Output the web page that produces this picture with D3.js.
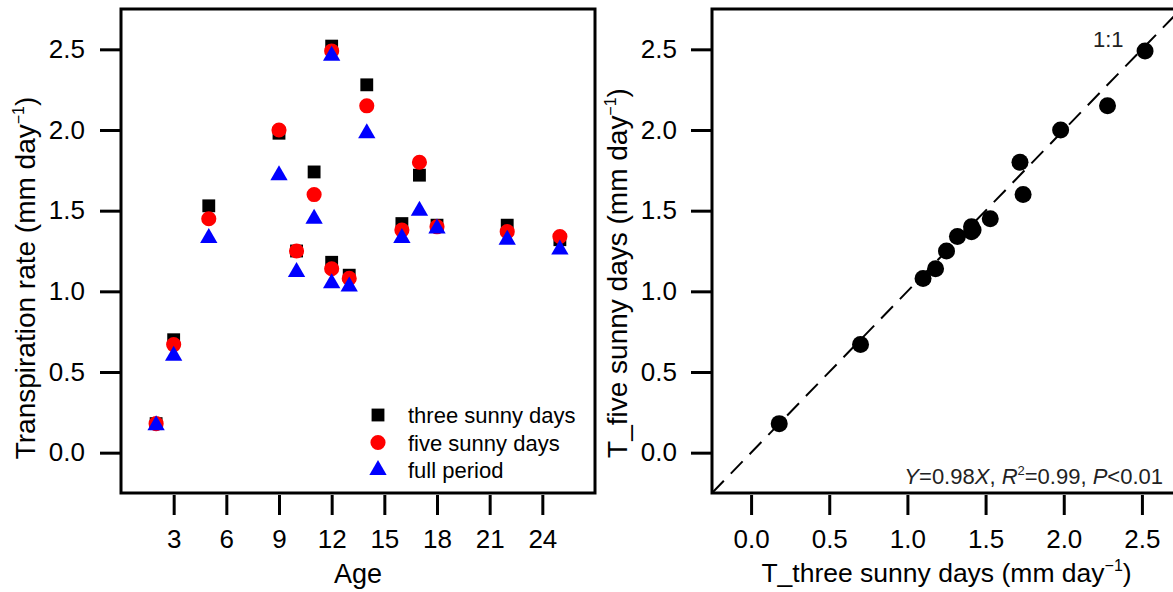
<!DOCTYPE html>
<html>
<head>
<meta charset="utf-8">
<script src="https://cdn.jsdelivr.net/npm/d3@7"></script>
<style>
  body { margin: 0; background: #fff; }
  svg { display: block; font-family: "Liberation Sans", Arial, sans-serif; }
</style>
</head>
<body>
<script>
// ages of the stands
var ages = [2, 3, 5, 9, 10, 11, 12, 12, 13, 14, 16, 17, 18, 22, 25];
// transpiration (mm/day) for each method
var threeSunny = [0.18, 0.70, 1.53, 1.98, 1.25, 1.74, 2.52, 1.18, 1.10, 2.28, 1.42, 1.72, 1.41, 1.41, 1.32];
var fiveSunny  = [0.18, 0.67, 1.45, 2.00, 1.25, 1.60, 2.49, 1.14, 1.08, 2.15, 1.38, 1.80, 1.40, 1.37, 1.34];
var fullPeriod = [0.17, 0.60, 1.33, 1.72, 1.12, 1.45, 2.46, 1.05, 1.03, 1.98, 1.33, 1.50, 1.39, 1.32, 1.26];

var ageTicks = [3, 6, 9, 12, 15, 18, 21, 24];
var rateTicks = [0, 0.5, 1, 1.5, 2, 2.5];
var seriesNames = ["three sunny days", "five sunny days", "full period"];

var width = 1173;
var height = 592;

var svg = d3.select("body").append("svg")
  .attr("width", width)
  .attr("height", height);

// shared y scale (both panels)
var plotTop = 9, plotBottom = 493;
var yScale = d3.scaleLinear().domain([-0.25, 2.75]).range([plotBottom, plotTop]);

var tickFont = "26px";

function styleAxis(g) {
  g.select(".domain").remove();
  g.selectAll(".tick line").attr("stroke", "#000").attr("stroke-width", 3);
  g.selectAll(".tick text").attr("fill", "#000").style("font-size", tickFont)
    .style("font-family", "'Liberation Sans', Arial, sans-serif");
}

function addUnitLabel(t, main) {
  t.append("tspan").text(main + " (mm day");
  t.append("tspan").attr("dy", -11).style("font-size", "16px").text("\u22121");
  t.append("tspan").attr("dy", 11).text(")");
}

// ---------- left panel ----------
var left = { x0: 121, x1: 595 };
var xAge = d3.scaleLinear().domain([0, 27]).range([left.x0, left.x1]);

svg.append("g")
  .attr("transform", "translate(" + left.x0 + ",0)")
  .call(d3.axisLeft(yScale).tickValues(rateTicks).tickFormat(d3.format(".1f")).tickSize(21).tickPadding(15))
  .call(styleAxis);

svg.append("g")
  .attr("transform", "translate(0," + (plotBottom + 2) + ")")
  .call(d3.axisBottom(xAge).tickValues(ageTicks).tickSize(20).tickPadding(15))
  .call(styleAxis);

var sym = {
  square: d3.symbol().type(d3.symbolSquare).size(165),
  circle: d3.symbol().type(d3.symbolCircle).size(180),
  triangle: d3.symbol().type(d3.symbolTriangle).size(130)
};

var leftSeries = [
  { values: threeSunny, shape: sym.square, color: "#000000" },
  { values: fiveSunny, shape: sym.circle, color: "#ff0000" },
  { values: fullPeriod, shape: sym.triangle, color: "#0000ff" }
];

leftSeries.forEach(function(s) {
  svg.append("g").selectAll("path")
    .data(ages)
    .enter()
      .append("path")
      .attr("d", s.shape())
      .attr("fill", s.color)
      .attr("transform", (d, i) => "translate(" + xAge(d) + "," + yScale(s.values[i]) + ")");
});

svg.append("rect")
  .attr("x", left.x0).attr("y", plotTop)
  .attr("width", left.x1 - left.x0).attr("height", plotBottom - plotTop)
  .attr("fill", "none").attr("stroke", "#000").attr("stroke-width", 3);

// legend
var legend = svg.append("g").attr("transform", "translate(378,415)");
leftSeries.forEach(function(s, i) {
  legend.append("path")
    .attr("d", s.shape())
    .attr("fill", s.color)
    .attr("transform", "translate(0," + i * 27.5 + ")");
  legend.append("text")
    .attr("x", 30)
    .attr("y", i * 27.5 + 8)
    .style("font-size", "22px")
    .text(seriesNames[i]);
});

// axis titles
svg.append("text")
  .attr("x", (left.x0 + left.x1) / 2)
  .attr("y", 583)
  .attr("text-anchor", "middle")
  .style("font-size", "27px")
  .text("Age");

svg.append("text")
  .attr("transform", "translate(35,278) rotate(-90)")
  .attr("text-anchor", "middle")
  .style("font-size", "28px")
  .call(addUnitLabel, "Transpiration rate");

// ---------- right panel ----------
var right = { x0: 712, x1: 1181 };
var xThree = d3.scaleLinear().domain([-0.25, 2.75]).range([right.x0, right.x1]);

svg.append("g")
  .attr("transform", "translate(" + right.x0 + ",0)")
  .call(d3.axisLeft(yScale).tickValues(rateTicks).tickFormat(d3.format(".1f")).tickSize(21).tickPadding(14))
  .call(styleAxis);

svg.append("g")
  .attr("transform", "translate(0," + (plotBottom + 2) + ")")
  .call(d3.axisBottom(xThree).tickValues(rateTicks).tickFormat(d3.format(".1f")).tickSize(20).tickPadding(15))
  .call(styleAxis);

// 1:1 line
svg.append("line")
  .attr("x1", xThree(-0.25)).attr("y1", yScale(-0.25))
  .attr("x2", xThree(2.75)).attr("y2", yScale(2.75))
  .attr("stroke", "#000").attr("stroke-width", 2)
  .attr("stroke-dasharray", "17,10");

svg.append("g").selectAll("circle")
  .data(threeSunny)
  .enter()
    .append("circle")
    .attr("cx", d => xThree(d))
    .attr("cy", (d, i) => yScale(fiveSunny[i]))
    .attr("r", 8.5)
    .attr("fill", "#000");

svg.append("rect")
  .attr("x", right.x0).attr("y", plotTop)
  .attr("width", right.x1 - right.x0).attr("height", plotBottom - plotTop)
  .attr("fill", "none").attr("stroke", "#000").attr("stroke-width", 3);

svg.append("text")
  .attr("x", 1093).attr("y", 47)
  .style("font-size", "22px")
  .attr("fill", "#222")
  .text("1:1");

var eq = svg.append("text")
  .attr("x", 1163).attr("y", 484)
  .attr("text-anchor", "end")
  .style("font-size", "22px")
  .attr("fill", "#222");
eq.append("tspan").style("font-style", "italic").text("Y");
eq.append("tspan").text("=0.98");
eq.append("tspan").style("font-style", "italic").text("X");
eq.append("tspan").text(", ");
eq.append("tspan").style("font-style", "italic").text("R");
eq.append("tspan").attr("dy", -9).style("font-size", "13px").text("2");
eq.append("tspan").attr("dy", 9).text("=0.99, ");
eq.append("tspan").style("font-style", "italic").text("P");
eq.append("tspan").text("<0.01");

svg.append("text")
  .attr("x", (right.x0 + right.x1) / 2)
  .attr("y", 582)
  .attr("text-anchor", "middle")
  .style("font-size", "26.5px")
  .call(addUnitLabel, "T_three sunny days");

svg.append("text")
  .attr("transform", "translate(627,273) rotate(-90)")
  .attr("text-anchor", "middle")
  .style("font-size", "28px")
  .call(addUnitLabel, "T_five sunny days");
</script>
</body>
</html>
